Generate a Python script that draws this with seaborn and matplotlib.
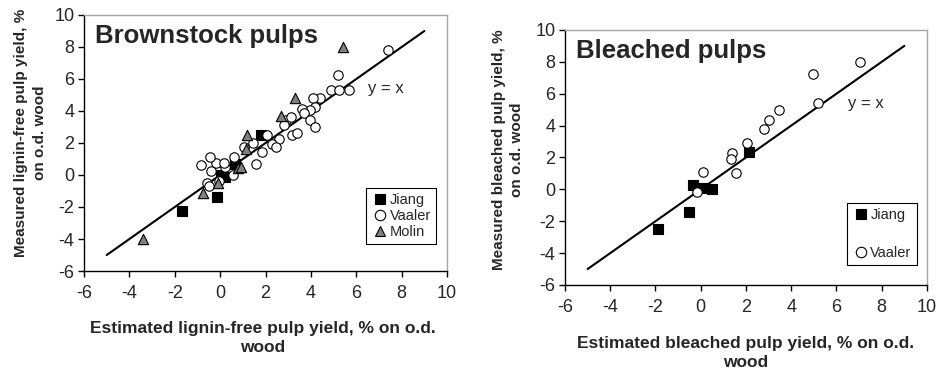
import matplotlib
matplotlib.use("Agg")
import matplotlib.pyplot as plt
import pandas as pd
import seaborn as sns
from matplotlib.lines import Line2D

# Brownstock pulps (estimated, measured)
brown_jiang_x = [-1.7, -0.15, 0.05, 0.2, 0.65, 1.8]
brown_jiang_y = [-2.25, -1.4, 0.0, -0.1, 0.7, 2.5]
brown_vaaler_x = [7.4, 5.2, 4.9, 5.25, 5.7, 4.4, 4.1, 4.2, 3.95, 3.6, 3.7, 3.95, 4.2,
                  2.9, 2.8, 3.1, 3.15, 3.4, 2.6, 2.3, 2.45, 2.05, 1.85, 1.45, 1.6,
                  1.05, 0.6, 0.55, 0.2, -0.2, -0.45, -0.85, -0.4, -0.6, -0.5, -0.05, 0.15]
brown_vaaler_y = [7.8, 6.25, 5.3, 5.3, 5.3, 4.8, 4.8, 4.25, 4.05, 4.15, 3.85, 3.45, 3.0,
                  3.45, 3.15, 3.65, 2.5, 2.6, 2.25, 1.95, 1.75, 2.5, 1.45, 2.0, 0.7,
                  1.75, 1.15, 0.0, 0.5, 0.75, 1.1, 0.6, 0.25, -0.5, -0.7, -0.4, 0.75]
brown_molin_x = [-3.4, -0.75, -0.1, 0.8, 0.9, 1.15, 1.2, 2.7, 3.3, 5.4]
brown_molin_y = [-4.0, -1.15, -0.5, 0.45, 0.5, 1.6, 2.5, 3.7, 4.8, 8.0]

# Bleached pulps
bleach_jiang_x = [-1.9, -0.5, -0.35, 0.1, 0.5, 2.15]
bleach_jiang_y = [-2.5, -1.4, 0.25, 0.1, 0.05, 2.35]
bleach_vaaler_x = [7.05, 4.95, 5.2, 3.45, 3.0, 2.8, 2.05, 1.4, 1.35, 1.55, 0.1, -0.15]
bleach_vaaler_y = [8.0, 7.25, 5.4, 5.0, 4.35, 3.8, 2.9, 2.25, 1.9, 1.0, 1.1, -0.15]

line_x = [-5, 9]
ticks = [-6, -4, -2, 0, 2, 4, 6, 8, 10]

sns.set_style("white")
plt.rcParams['font.family'] = ['Liberation Sans', 'DejaVu Sans']
plt.rcParams['axes.unicode_minus'] = False

styles = {
    'Jiang': dict(marker='s', color='black', edgecolor='black', s=50),
    'Vaaler': dict(marker='o', color='white', edgecolor='black', s=46),
    'Molin': dict(marker='^', color='#808080', edgecolor='black', s=55),
}


def make_df(groups):
    rows = []
    for name, xs, ys in groups:
        for x, y in zip(xs, ys):
            rows.append({'source': name, 'est': x, 'meas': y})
    return pd.DataFrame(rows)


def draw_panel(ax, df, title, xlabel, ylabel, leg_box, leg_spacing):
    ax.plot(line_x, line_x, color='black', lw=1.5, zorder=1)
    for name, grp in df.groupby('source', sort=False):
        st = styles[name]
        sns.scatterplot(data=grp, x='est', y='meas', ax=ax, marker=st['marker'],
                        color=st['color'], edgecolor=st['edgecolor'], linewidth=0.8,
                        s=st['s'], zorder=3, legend=False)
    ax.set_xlim(-6, 10)
    ax.set_ylim(-6, 10)
    ax.set_xticks(ticks)
    ax.set_yticks(ticks)
    ax.tick_params(axis='both', labelsize=13, direction='out', length=4, width=1,
                   color='black', left=True, bottom=True)
    ax.tick_params(axis='x', pad=6)
    ax.tick_params(axis='y', pad=3)
    for side in ['top', 'right']:
        ax.spines[side].set_color('#a6a6a6')
        ax.spines[side].set_linewidth(1)
    for side in ['left', 'bottom']:
        ax.spines[side].set_color('black')
        ax.spines[side].set_linewidth(1)
    ax.text(0.03, 0.89, title, transform=ax.transAxes, fontsize=18.5,
            fontweight='bold', ha='left', va='baseline')
    ax.text(6.5, 5.4, 'y = x', fontsize=12, ha='left', va='center')
    ax.set_xlabel(xlabel, fontsize=12.5, fontweight='bold', linespacing=1.3)
    ax.set_ylabel(ylabel, fontsize=11, fontweight='bold', linespacing=1.45)

    handles = []
    for name in df['source'].unique():
        st = styles[name]
        handles.append(Line2D([], [], ls='none', marker=st['marker'],
                              markerfacecolor=st['color'], markeredgecolor='black',
                              markeredgewidth=0.8, markersize=7.5, label=name))
    leg = ax.legend(handles=handles, loc='upper left', bbox_to_anchor=leg_box,
                    fontsize=10.5, frameon=True, fancybox=False, framealpha=1,
                    borderpad=0.35, handletextpad=0.05, handlelength=1.2,
                    labelspacing=leg_spacing, borderaxespad=0)
    leg.get_frame().set_edgecolor('black')
    leg.get_frame().set_linewidth(0.8)
    return leg


fig = plt.figure(figsize=(9.39, 3.74), dpi=100)
ax1 = fig.add_axes([0.0895, 0.2754, 0.3866, 0.6845])
ax2 = fig.add_axes([0.6017, 0.238, 0.3855, 0.682])

df_brown = make_df([('Jiang', brown_jiang_x, brown_jiang_y),
                    ('Vaaler', brown_vaaler_x, brown_vaaler_y),
                    ('Molin', brown_molin_x, brown_molin_y)])
df_bleach = make_df([('Jiang', bleach_jiang_x, bleach_jiang_y),
                     ('Vaaler', bleach_vaaler_x, bleach_vaaler_y)])

draw_panel(ax1, df_brown, 'Brownstock pulps',
           'Estimated lignin-free pulp yield, % on o.d.\nwood',
           'Measured lignin-free pulp yield, %\non o.d. wood',
           (0.777, 0.324), 0.12)
draw_panel(ax2, df_bleach, 'Bleached pulps',
           'Estimated bleached pulp yield, % on o.d.\nwood',
           'Measured bleached pulp yield, %\non o.d. wood',
           (0.779, 0.322), 1.65)

ax1.xaxis.set_label_coords(0.493, -0.196)
ax2.xaxis.set_label_coords(0.499, -0.2)
ax1.yaxis.set_label_coords(-0.102, 0.54)
ax2.yaxis.set_label_coords(-0.112, 0.53)

fig.savefig('out.png', dpi=100)
